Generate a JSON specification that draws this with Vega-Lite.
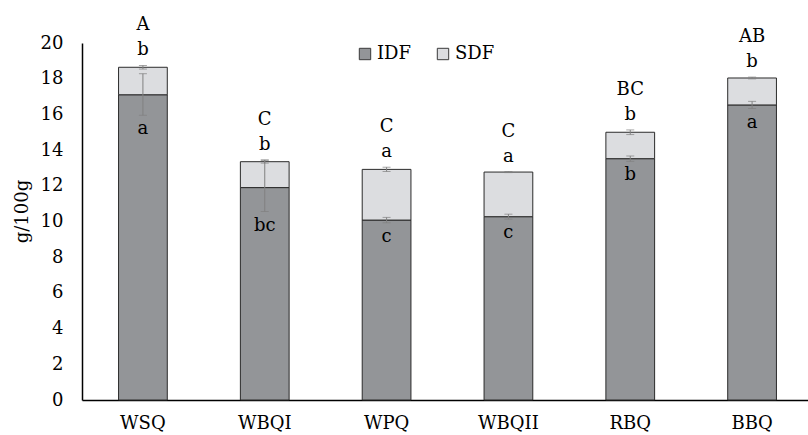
{
  "$schema": "https://vega.github.io/schema/vega-lite/v6.json",
  "width": 726,
  "height": 357,
  "autosize": {"type": "none"},
  "padding": {"left": 82, "top": 43, "right": 0, "bottom": 35},
  "background": "white",
  "config": {
    "view": {"stroke": null},
    "font": "DejaVu Serif",
    "axis": {"labelFont": "DejaVu Serif", "titleFont": "DejaVu Serif", "labelColor": "#000000", "titleColor": "#000000", "labelOverlap": false, "labelBound": false},
    "axisY": {"values": [0, 2, 4, 6, 8, 10, 12, 14, 16, 18, 20], "labelOverlap": false, "labelSeparation": 0, "grid": false, "ticks": false, "tickSize": 0, "labelPadding": 19, "labelFontSize": 18, "domainColor": "#000000", "domainWidth": 1.5, "titleFontSize": 18, "titleFontWeight": "normal", "titleAngle": -90, "titleX": -60, "titleY": 168, "titleAlign": "center", "titleBaseline": "middle"},
    "legend": {"labelFont": "DejaVu Serif"},
    "text": {"font": "DejaVu Serif"}
  },
  "data": {
    "values": [
      {"cat": "WSQ", "part": "IDF", "value": 17.1, "lo": 15.95, "hi": 18.28, "letter": "a", "group": ""},
      {"cat": "WSQ", "part": "SDF", "value": 1.54, "lo": 18.54, "hi": 18.74, "letter": "b", "group": "A"},
      {"cat": "WBQI", "part": "IDF", "value": 11.9, "lo": 10.56, "hi": 13.45, "letter": "bc", "group": ""},
      {"cat": "WBQI", "part": "SDF", "value": 1.45, "lo": 13.27, "hi": 13.43, "letter": "b", "group": "C"},
      {"cat": "WPQ", "part": "IDF", "value": 10.08, "lo": 9.93, "hi": 10.23, "letter": "c", "group": ""},
      {"cat": "WPQ", "part": "SDF", "value": 2.84, "lo": 12.8, "hi": 13.04, "letter": "a", "group": "C"},
      {"cat": "WBQII", "part": "IDF", "value": 10.27, "lo": 10.13, "hi": 10.41, "letter": "c", "group": ""},
      {"cat": "WBQII", "part": "SDF", "value": 2.5, "lo": 12.74, "hi": 12.8, "letter": "a", "group": "C"},
      {"cat": "RBQ", "part": "IDF", "value": 13.52, "lo": 13.37, "hi": 13.67, "letter": "b", "group": ""},
      {"cat": "RBQ", "part": "SDF", "value": 1.48, "lo": 14.87, "hi": 15.13, "letter": "b", "group": "BC"},
      {"cat": "BBQ", "part": "IDF", "value": 16.53, "lo": 16.33, "hi": 16.73, "letter": "a", "group": ""},
      {"cat": "BBQ", "part": "SDF", "value": 1.51, "lo": 17.99, "hi": 18.09, "letter": "b", "group": "AB"}
    ]
  },
  "transform": [
    {"stack": "value", "groupby": ["cat"], "sort": [{"field": "part", "order": "ascending"}], "as": ["v0", "v1"]}
  ],
  "encoding": {
    "x": {
      "field": "cat",
      "type": "nominal",
      "sort": ["WSQ", "WBQI", "WPQ", "WBQII", "RBQ", "BBQ"],
      "scale": {"range": [0, 731], "paddingInner": 0, "paddingOuter": 0},
      "axis": {
        "title": null,
        "labelAngle": 0,
        "ticks": false,
        "tickSize": 0,
        "labelPadding": 14,
        "labelFontSize": 18,
        "domainColor": "#000000",
        "domainWidth": 1.5
      }
    }
  },
  "layer": [
    {
      "mark": {"type": "bar", "width": {"band": 0.4}, "stroke": "#2b2b2b", "strokeWidth": 1},
      "encoding": {
        "y": {
          "field": "v1",
          "type": "quantitative",
          "title": "g/100g",
          "scale": {"domain": [0, 20], "nice": false},
          "axis": {"values": [0, 2, 4, 6, 8, 10, 12, 14, 16, 18, 20], "labelOverlap": false}
        },
        "y2": {"field": "v0"},
        "color": {
          "field": "part",
          "type": "nominal",
          "scale": {"domain": ["IDF", "SDF"], "range": ["#939598", "#dcdde0"]},
          "legend": {
            "title": null,
            "orient": "none",
            "direction": "horizontal",
            "legendX": 274,
            "legendY": 2,
            "labelFontSize": 18,
            "labelColor": "#000000",
            "labelOffset": 3,
            "symbolType": "square",
            "symbolSize": 130,
            "symbolStrokeColor": "#3a3a3a",
            "symbolStrokeWidth": 1,
            "columnPadding": 22
          }
        }
      }
    },
    {
      "mark": {"type": "errorbar", "color": "#808080", "ticks": {"size": 8, "color": "#808080"}, "rule": {"color": "#808080", "strokeWidth": 1}},
      "encoding": {
        "y": {"field": "lo", "type": "quantitative", "title": "g/100g", "axis": {"values": [0, 2, 4, 6, 8, 10, 12, 14, 16, 18, 20], "labelOverlap": false}},
        "y2": {"field": "hi"}
      }
    },
    {
      "transform": [{"filter": "datum.part === 'IDF'"}],
      "mark": {"type": "text", "fontSize": 18, "baseline": "middle", "dy": 14, "color": "#000000"},
      "encoding": {
        "y": {"field": "lo", "type": "quantitative", "title": "g/100g", "axis": {"values": [0, 2, 4, 6, 8, 10, 12, 14, 16, 18, 20], "labelOverlap": false}},
        "text": {"field": "letter"}
      }
    },
    {
      "transform": [{"filter": "datum.part === 'SDF'"}],
      "mark": {"type": "text", "fontSize": 18, "baseline": "middle", "dy": -15, "color": "#000000"},
      "encoding": {
        "y": {"field": "hi", "type": "quantitative", "title": "g/100g", "axis": {"values": [0, 2, 4, 6, 8, 10, 12, 14, 16, 18, 20], "labelOverlap": false}},
        "text": {"field": "letter"}
      }
    },
    {
      "transform": [{"filter": "datum.part === 'SDF'"}],
      "mark": {"type": "text", "fontSize": 18, "baseline": "middle", "dy": -40, "color": "#000000"},
      "encoding": {
        "y": {"field": "hi", "type": "quantitative", "title": "g/100g", "axis": {"values": [0, 2, 4, 6, 8, 10, 12, 14, 16, 18, 20], "labelOverlap": false}},
        "text": {"field": "group"}
      }
    }
  ]
}
